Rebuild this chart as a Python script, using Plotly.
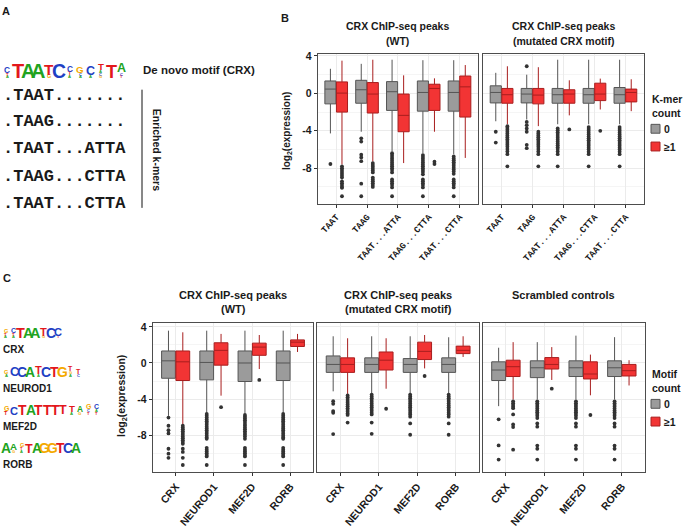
import plotly.graph_objects as go

W, H = 685, 528
SANS = "Liberation Sans, Arial, sans-serif"
NARROW = "Liberation Sans Narrow, Liberation Sans, Arial, sans-serif"
MONO = "Liberation Mono, Courier New, monospace"

# ---------------- data ----------------
KMER_LABELS = ["TAAT", "TAAG", "TAAT...ATTA", "TAAG...CTTA", "TAAT...CTTA"]
MOTIF_LABELS = ["CRX", "NEUROD1", "MEF2D", "RORB"]
GROUP_NAMES = ["0", "≥1"]

# Panel B, WT peaks, k-mer count 0
B_WT0_Q1 = [-1.12, -1.05, -1.82, -1.90, -1.90]
B_WT0_MED = [0.46, 0.39, 0.18, 0.10, 0.10]
B_WT0_Q3 = [1.33, 1.40, 1.26, 1.33, 1.33]
B_WT0_LO = [-4.28, -4.10, -6.20, -6.40, -6.50]
B_WT0_HI = [2.63, 3.16, 3.60, 3.55, 3.55]
B_WT0_OUT = [
    [-7.55],
    [-4.8, -5.15, -6.55, -6.85, -7.25, -9.65, -11.0],
    [-6.4, -6.6, -6.8, -7.0, -7.2, -7.4, -7.6, -7.8, -8.0, -8.2, -8.45, -9.2, -9.4, -9.6, -9.8, -10.05, -11.0],
    [-6.6, -6.8, -7.0, -7.2, -7.4, -7.6, -7.8, -8.0, -8.2, -8.4, -8.65, -9.2, -9.4, -9.6, -9.8, -10.05, -11.0],
    [-6.75, -6.95, -7.15, -7.35, -7.55, -7.75, -7.95, -8.15, -8.35, -8.6, -9.2, -9.4, -9.6, -9.8, -10.05, -11.0],
]
# Panel B, WT peaks, k-mer count >=1
B_WT1_Q1 = [-2.00, -2.10, -4.10, -1.82, -2.53]
B_WT1_MED = [0.03, -0.07, -2.35, 0.53, 0.70]
B_WT1_Q3 = [1.23, 1.16, -0.07, 0.98, 1.86]
B_WT1_LO = [-7.60, -7.30, -7.45, -4.10, -6.90]
B_WT1_HI = [3.50, 3.60, 1.93, 1.61, 3.03]
B_WT1_OUT = [
    [-7.8, -8.0, -8.2, -8.4, -8.6, -8.8, -9.0, -9.4, -9.6, -9.8, -10.0, -10.1, -11.0],
    [-7.45, -7.65, -7.85, -8.05, -8.25, -8.45, -9.0, -9.2, -9.4, -9.6, -9.8, -10.0],
    [],
    [-7.3, -7.55],
    [],
]
# Panel B, mutated CRX motif peaks, k-mer count 0
B_MU0_Q1 = [-1.02, -1.02, -1.05, -1.05, -1.05]
B_MU0_MED = [0.10, -0.07, -0.14, -0.14, -0.14]
B_MU0_Q3 = [0.81, 0.53, 0.53, 0.53, 0.63]
B_MU0_LO = [-2.98, -2.79, -3.30, -3.30, -3.30]
B_MU0_HI = [2.20, 2.00, 3.60, 3.60, 3.60]
B_MU0_OUT = [
    [-4.1, -5.26],
    [2.9, -3.05, -3.4, -3.75, -4.1, -5.5, -5.86],
    [-3.75, -3.95, -4.15, -4.35, -4.55, -4.75, -4.95, -5.15, -5.35, -5.55, -5.75, -5.95, -6.2, -6.5, -7.8],
    [-3.6, -3.8, -4.0, -4.2, -4.4, -4.6, -4.8, -5.0, -5.2, -5.4, -5.6, -5.8, -6.0, -6.25, -6.5, -7.8],
    [-3.6, -3.8, -4.0, -4.2, -4.4, -4.6, -4.8, -5.0, -5.2, -5.4, -5.6, -5.8, -6.0, -6.25, -6.5, -7.8],
]
# Panel B, mutated CRX motif peaks, k-mer count >=1
B_MU1_Q1 = [-1.05, -1.12, -1.05, -0.77, -0.91]
B_MU1_MED = [-0.14, -0.18, -0.07, -0.07, 0.10]
B_MU1_Q3 = [0.53, 0.53, 0.39, 1.09, 0.46]
B_MU1_LO = [-3.30, -3.50, -2.35, -1.72, -1.90]
B_MU1_HI = [2.90, 2.80, 1.40, 1.58, 1.51]
B_MU1_OUT = [
    [-3.5, -3.7, -3.9, -4.1, -4.3, -4.5, -4.7, -4.9, -5.1, -5.3, -5.5, -5.7, -5.95, -6.2, -6.5, -7.8],
    [-4.1, -4.3, -4.5, -4.7, -4.9, -5.1, -5.3, -5.5, -5.7, -5.95, -6.2, -6.5, -7.8],
    [-3.85],
    [-4.0],
    [],
]

# Panel C, WT peaks
C_WT0_Q1 = [-1.69, -1.87, -2.05, -1.94]
C_WT0_MED = [0.24, 0.06, 0.00, 0.00]
C_WT0_Q3 = [1.33, 1.33, 1.33, 1.33]
C_WT0_LO = [-5.86, -5.50, -5.60, -5.50]
C_WT0_HI = [3.58, 3.58, 3.58, 3.58]
C_WT0_OUT = [
    [-6.05, -6.95, -7.45, -7.8, -9.5, -10.05, -10.5],
    [-5.65, -5.85, -6.05, -6.25, -6.45, -6.65, -6.85, -7.05, -7.25, -7.45, -7.65, -7.85, -8.05, -8.25, -8.4, -9.4, -9.6, -9.8, -10.0, -10.2, -10.35, -11.3],
    [-5.75, -5.95, -6.15, -6.35, -6.55, -6.75, -6.95, -7.15, -7.35, -7.55, -7.75, -7.95, -8.15, -8.4, -9.4, -9.6, -9.8, -10.0, -10.2, -10.35, -11.3],
    [-5.65, -5.85, -6.05, -6.25, -6.45, -6.65, -6.85, -7.05, -7.25, -7.45, -7.65, -7.85, -8.05, -8.25, -8.4, -9.4, -9.6, -9.8, -10.0, -10.2, -10.35, -11.3],
]
C_WT1_Q1 = [-1.94, -0.24, 0.85, 1.83]
C_WT1_MED = [0.13, 1.40, 1.76, 2.31]
C_WT1_Q3 = [1.33, 2.24, 2.20, 2.56]
C_WT1_LO = [-6.80, -3.62, -0.67, 1.22]
C_WT1_HI = [3.40, 3.22, 3.10, 3.22]
C_WT1_OUT = [
    [-6.95, -7.15, -7.35, -7.55, -7.75, -7.95, -8.15, -8.35, -8.55, -8.75, -8.95, -9.5, -9.85, -10.5, -11.3],
    [-4.89],
    [-1.88],
    [],
]
# Panel C, mutated CRX motif peaks
C_MU0_Q1 = [-1.04, -1.04, -1.04, -1.04]
C_MU0_MED = [-0.16, -0.16, -0.16, -0.16]
C_MU0_Q3 = [0.78, 0.57, 0.49, 0.57]
C_MU0_LO = [-3.14, -3.43, -3.43, -3.43]
C_MU0_HI = [2.96, 2.96, 2.96, 2.85]
C_MU0_OUT = [
    [-4.23, -4.52, -5.33, -5.51, -7.87],
    [-3.5, -3.7, -3.9, -4.1, -4.3, -4.5, -4.7, -4.9, -5.1, -5.3, -5.5, -5.7, -6.6, -7.85],
    [-3.5, -3.7, -3.9, -4.1, -4.3, -4.5, -4.7, -4.9, -5.1, -5.3, -5.5, -5.7, -5.95, -6.7, -7.95],
    [-3.5, -3.7, -3.9, -4.1, -4.3, -4.5, -4.7, -4.9, -5.1, -5.3, -5.5, -5.7, -5.95, -6.7, -7.95],
]
C_MU1_Q1 = [-1.04, -0.78, 0.38, 1.04]
C_MU1_MED = [-0.16, 0.31, 1.29, 1.40]
C_MU1_Q3 = [0.57, 1.22, 2.31, 1.87]
C_MU1_LO = [-3.43, -2.85, -0.60, 0.67]
C_MU1_HI = [2.74, 2.74, 3.10, 2.96]
C_MU1_OUT = [
    [-3.6, -3.8, -4.0, -4.2, -4.4, -4.6, -4.8, -5.0, -5.2, -5.4, -5.6, -5.75, -6.6],
    [-5.07],
    [-1.44],
    [],
]
# Panel C, scrambled controls
C_SC0_Q1 = [-1.94, -1.62, -1.50, -1.50]
C_SC0_MED = [-0.78, -0.53, -0.53, -0.53]
C_SC0_Q3 = [0.13, 0.24, 0.24, 0.24]
C_SC0_LO = [-4.78, -4.05, -4.05, -4.05]
C_SC0_HI = [1.69, 2.31, 3.03, 2.86]
C_SC0_OUT = [
    [-6.24, -9.13, -10.7],
    [-4.25, -4.45, -4.65, -4.85, -5.05, -5.25, -5.45, -5.65, -5.85, -6.1, -6.7, -7.05, -9.15, -9.5, -10.7],
    [-4.25, -4.45, -4.65, -4.85, -5.05, -5.25, -5.45, -5.65, -5.85, -6.1, -6.7, -7.05, -9.15, -9.5, -10.7],
    [-4.25, -4.45, -4.65, -4.85, -5.05, -5.25, -5.45, -5.65, -5.85, -6.1, -6.7, -7.05, -9.15, -9.5, -10.7],
]
C_SC1_Q1 = [-1.50, -0.67, -1.77, -1.44]
C_SC1_MED = [-0.41, -0.16, -1.22, -0.85]
C_SC1_Q3 = [0.31, 0.60, 0.13, -0.16]
C_SC1_LO = [-4.05, -1.88, -3.58, -2.49]
C_SC1_HI = [2.31, 1.76, 0.93, 0.31]
C_SC1_OUT = [
    [-4.25, -4.45, -4.65, -4.85, -5.0, -5.7, -6.8, -7.1, -9.6],
    [-2.85],
    [-5.76],
    [],
]

Y_TICKS = [-8, -4, 0, 4]
Y_TICK_TEXT = ["-8", "-4", "0", "4"]
Y_MINOR = [-10, -6, -2, 2]

KMER_ROWS = [".TAAT.......", ".TAAG.......", ".TAAT...ATTA", ".TAAG...CTTA", ".TAAT...CTTA"]

# sequence logos: letters of each column from top to bottom, with their heights (px)
DENOVO_LOGO = [("CTA", [6, 3, 2]), ("T", [16]), ("A", [16]), ("A", [16]), ("TG", [11, 4]),
               ("C", [14]), ("CTA", [6, 4, 3]), ("GCA", [7, 3, 2]), ("CA", [9, 3]),
               ("TACG", [7, 3, 2, 2]), ("T", [13]), ("ACT", [9, 3, 2])]
CRX_LOGO = [("GTA", [4, 3, 2]), ("CTA", [5, 3, 2]), ("T", [11]), ("A", [11]), ("A", [11]),
            ("TG", [8, 2]), ("C", [10]), ("CT", [8, 2])]
NEUROD1_LOGO = [("GA", [4, 3]), ("C", [9]), ("C", [10]), ("A", [10]), ("TA", [8, 2]), ("C", [10]),
                ("T", [10]), ("G", [10]), ("TGA", [5, 2, 2]), ("TC", [5, 3])]
MEF2D_LOGO = [("GT", [5, 4]), ("C", [8]), ("T", [10]), ("A", [10]), ("T", [10]), ("T", [10]),
              ("T", [10]), ("T", [9]), ("TA", [7, 3]), ("AG", [6, 3]), ("GCT", [5, 2, 2]), ("CAT", [5, 2, 2])]
RORB_LOGO = [("A", [10]), ("AG", [7, 2]), ("GTA", [4, 3, 2]), ("T", [9]), ("A", [10]), ("G", [10]),
             ("G", [10]), ("T", [10]), ("C", [10]), ("A", [10])]
LETTER_COLORS = {"A": "#21a321", "C": "#1f3fc4", "G": "#f4a900", "T": "#e3171c"}

# ---------------- styling ----------------
GRAY_FILL, GRAY_LINE = "#9b9b9b", "#555555"
RED_FILL, RED_LINE = "#f23434", "#a81e1e"
DODGE, BOXW = 0.1875, 0.36
TXT = "#1a1a1a"


def px_x(p):
    return p / W


def px_y(p):
    return 1 - p / H


fig = go.Figure()
annotations = []
shapes = []


def text(x, y, s, size, xanchor="left", weight="bold", family=SANS, color=TXT, angle=0, yanchor="middle"):
    annotations.append(dict(x=px_x(x), y=px_y(y), xref="paper", yref="paper", text=s, showarrow=False,
                            xanchor=xanchor, yanchor=yanchor, textangle=angle, borderpad=0,
                            font=dict(family=family, size=size, color=color, weight=weight)))


def add_panel(k, labels, grp0, grp1, xdom, ydom, yrange, first, tickfont, tickangle):
    xa = "x" if k == 1 else f"x{k}"
    ya = "y" if k == 1 else f"y{k}"
    n = len(labels)
    for (q1, med, q3, lo, hi, outs), fill, line, off in [
        (grp0, GRAY_FILL, GRAY_LINE, -DODGE), (grp1, RED_FILL, RED_LINE, DODGE)
    ]:
        pos = [i + off for i in range(n)]
        fig.add_trace(go.Box(x=pos, q1=q1, median=med, q3=q3, lowerfence=lo, upperfence=hi,
                             orientation="v", width=BOXW, fillcolor=fill,
                             line=dict(color=line, width=1), whiskerwidth=0, boxpoints=False,
                             xaxis=xa, yaxis=ya, showlegend=False))
        ox, oy = [], []
        for i, vals in enumerate(outs):
            ox += [i + off] * len(vals)
            oy += vals
        fig.add_trace(go.Scatter(x=ox, y=oy, mode="markers", marker=dict(color="#333333", size=3.8),
                                 xaxis=xa, yaxis=ya, showlegend=False))
    ax_common = dict(showline=True, mirror=True, linecolor="#4d4d4d", linewidth=1, zeroline=False)
    fig.layout[f"xaxis{'' if k == 1 else k}"] = dict(
        domain=xdom, anchor=ya, range=[-0.6, n - 0.4], tickvals=list(range(n)), ticktext=labels,
        tickangle=tickangle, tickfont=tickfont, ticks="outside", ticklen=3, tickcolor="#333333",
        showgrid=True, gridcolor="#ebebeb", gridwidth=1, **ax_common)
    fig.layout[f"yaxis{'' if k == 1 else k}"] = dict(
        domain=ydom, anchor=xa, range=yrange, tickvals=Y_TICKS, ticktext=Y_TICK_TEXT,
        showticklabels=first, ticks="outside" if first else "", ticklen=3, tickcolor="#333333",
        tickfont=dict(family=SANS, size=10.5, color=TXT, weight="bold"),
        showgrid=True, gridcolor="#ebebeb", gridwidth=1,
        minor=dict(tickvals=Y_MINOR, showgrid=True, gridcolor="#f5f5f5", ticks=""), **ax_common)


def add_logo(cols, x0, colw, ybottom):
    for i, (letters, hs) in enumerate(cols):
        cx = x0 + colw * (i + 0.5)
        y = ybottom
        for letter, h in reversed(list(zip(letters, hs))):
            size = max(min(h / 0.72, colw / 0.52), 4)
            hh = size * 0.72
            text(cx, y - hh / 2, letter, size, xanchor="center", family=NARROW,
                 color=LETTER_COLORS[letter])
            y -= hh


def grp(q1, med, q3, lo, hi, outs):
    return (q1, med, q3, lo, hi, outs)


# domains (from pixel layout)
B_YDOM = [px_y(203.3), px_y(50.7)]
C_YDOM = [px_y(475.7), px_y(324.0)]
B_YR = [-11.85, 4.22]
C_YR = [-12.13, 4.42]
KMER_FONT = dict(family=MONO, size=9, color=TXT, weight="bold")
MOTIF_FONT = dict(family=SANS, size=10.5, color=TXT, weight="bold")

add_panel(1, KMER_LABELS,
          grp(B_WT0_Q1, B_WT0_MED, B_WT0_Q3, B_WT0_LO, B_WT0_HI, B_WT0_OUT),
          grp(B_WT1_Q1, B_WT1_MED, B_WT1_Q3, B_WT1_LO, B_WT1_HI, B_WT1_OUT),
          [px_x(317.7), px_x(478)], B_YDOM, B_YR, True, KMER_FONT, -48)
add_panel(2, KMER_LABELS,
          grp(B_MU0_Q1, B_MU0_MED, B_MU0_Q3, B_MU0_LO, B_MU0_HI, B_MU0_OUT),
          grp(B_MU1_Q1, B_MU1_MED, B_MU1_Q3, B_MU1_LO, B_MU1_HI, B_MU1_OUT),
          [px_x(483), px_x(644)], B_YDOM, B_YR, False, KMER_FONT, -48)
add_panel(3, MOTIF_LABELS,
          grp(C_WT0_Q1, C_WT0_MED, C_WT0_Q3, C_WT0_LO, C_WT0_HI, C_WT0_OUT),
          grp(C_WT1_Q1, C_WT1_MED, C_WT1_Q3, C_WT1_LO, C_WT1_HI, C_WT1_OUT),
          [px_x(152.7), px_x(313.3)], C_YDOM, C_YR, True, MOTIF_FONT, -50)
add_panel(4, MOTIF_LABELS,
          grp(C_MU0_Q1, C_MU0_MED, C_MU0_Q3, C_MU0_LO, C_MU0_HI, C_MU0_OUT),
          grp(C_MU1_Q1, C_MU1_MED, C_MU1_Q3, C_MU1_LO, C_MU1_HI, C_MU1_OUT),
          [px_x(317.3), px_x(479)], C_YDOM, C_YR, False, MOTIF_FONT, -50)
add_panel(5, MOTIF_LABELS,
          grp(C_SC0_Q1, C_SC0_MED, C_SC0_Q3, C_SC0_LO, C_SC0_HI, C_SC0_OUT),
          grp(C_SC1_Q1, C_SC1_MED, C_SC1_Q3, C_SC1_LO, C_SC1_HI, C_SC1_OUT),
          [px_x(482.7), px_x(645)], C_YDOM, C_YR, False, MOTIF_FONT, -50)

# ---------------- panel labels & titles ----------------
text(1, 7, "A", 11)
text(280, 14, "B", 11)
text(2, 278, "C", 11)

text(397.9, 22, "CRX ChIP-seq peaks", 10.5, xanchor="center")
text(397.9, 37.5, "(WT)", 10.5, xanchor="center")
text(563.5, 22, "CRX ChIP-seq peaks", 10.5, xanchor="center")
text(563.5, 37.5, "(mutated CRX motif)", 10.5, xanchor="center")
text(233, 295, "CRX ChIP-seq peaks", 11, xanchor="center")
text(233, 310, "(WT)", 11, xanchor="center")
text(398.2, 295, "CRX ChIP-seq peaks", 11, xanchor="center")
text(398.2, 310, "(mutated CRX motif)", 11, xanchor="center")
text(563.9, 295, "Scrambled controls", 11, xanchor="center")

text(287, 129, "log<sub>2</sub>(expression)", 10, xanchor="center", angle=-90)
text(122, 398, "log<sub>2</sub>(expression)", 10.5, xanchor="center", angle=-90)

# legends
for title_lines, y0 in [(["K-mer", "count"], 96.7), (["Motif", "count"], 376)]:
    text(651, y0, title_lines[0], 10.5)
    text(651, y0 + 13.5, title_lines[1], 10.5)
    for j, (fill, line, name) in enumerate([(GRAY_FILL, GRAY_LINE, GROUP_NAMES[0]),
                                            (RED_FILL, RED_LINE, GROUP_NAMES[1])]):
        cy = y0 + 30 + 18 * j
        shapes.append(dict(type="rect", xref="paper", yref="paper", x0=px_x(651), x1=px_x(660),
                           y0=px_y(cy + 4.5), y1=px_y(cy - 4.5), fillcolor=fill,
                           line=dict(color=line, width=1)))
        text(663, cy, name, 10.5)

# ---------------- panel A ----------------
add_logo(DENOVO_LOGO, 2, 10.4, 75.5)
text(142, 67, "De novo motif (CRX)", 11.5)
for row, yy in zip(KMER_ROWS, [93, 119, 147, 175, 203]):
    text(2, yy, row, 17, family=MONO)
shapes.append(dict(type="line", xref="paper", yref="paper", x0=px_x(142), x1=px_x(142),
                   y0=px_y(87), y1=px_y(207), line=dict(color="#111111", width=1)))
text(157, 148, "Enriched k-mers", 10.5, xanchor="center", angle=90)

# ---------------- panel C logos ----------------
for logo, colw, ybot, name, ylab in [
    (CRX_LOGO, 7.5, 339.5, "CRX", 351),
    (NEUROD1_LOGO, 8.0, 378.5, "NEUROD1", 390),
    (MEF2D_LOGO, 8.2, 417.0, "MEF2D", 429.5),
    (RORB_LOGO, 7.8, 456.0, "RORB", 468),
]:
    add_logo(logo, 2, colw, ybot)
    text(2, ylab, name, 10)

fig.update_layout(width=W, height=H, margin=dict(l=0, r=0, t=0, b=0), autosize=False,
                  paper_bgcolor="white", plot_bgcolor="white", showlegend=False,
                  annotations=annotations, shapes=shapes)
fig.write_html("out.html", config={"displayModeBar": False},
               post_script="document.body.style.margin='0';document.body.style.overflow='hidden';")
